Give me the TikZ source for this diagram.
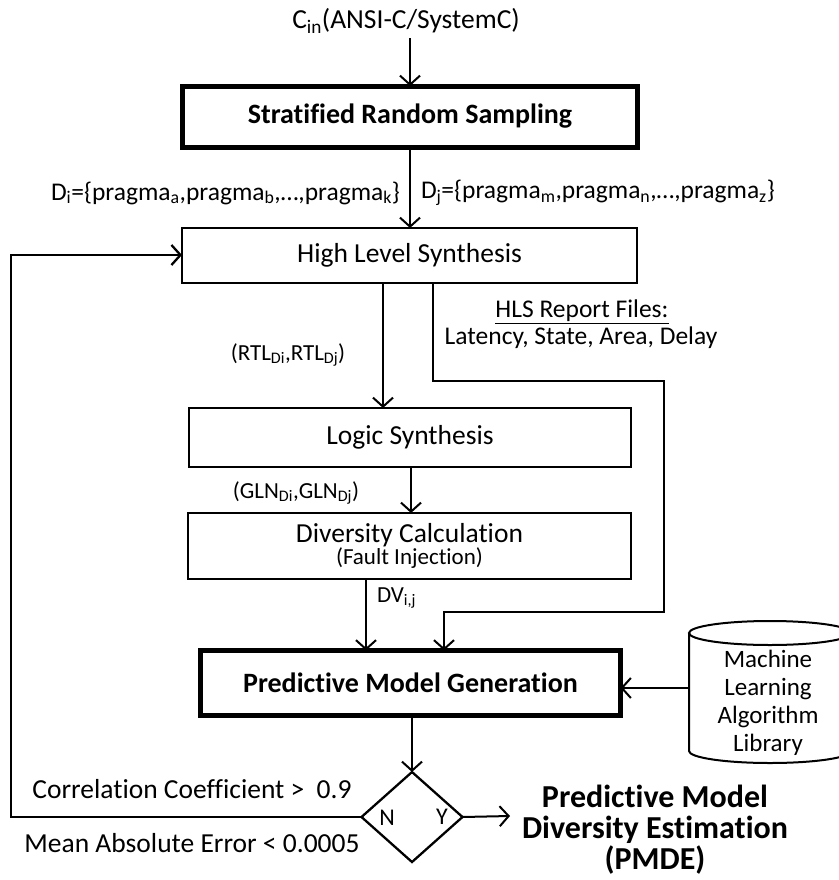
\documentclass[tikz,border=0pt]{standalone}
\usepackage{fontspec}
\setmainfont{Carlito}[Ligatures=NoCommon]
\usetikzlibrary{arrows.meta,shapes.geometric}
% font size and baseline skip, both in bp
\newcommand{\pxsize}[2]{\fontsize{#1bp}{#2bp}\selectfont}

\tikzset{
  every node/.style={inner sep=0pt, outer sep=0pt},
  txt/.style={font=\pxsize{27.5}{30}},
  lbl/.style={font=\pxsize{23}{25}},
  setlbl/.style={font=\pxsize{25.5}{28}},
  procbox/.style={draw, line width=2.3bp, font=\pxsize{27.5}{27.5}},
  keybox/.style={draw, line width=5bp, font=\bfseries\pxsize{28}{30}},
  flow/.style={line width=2bp},
  arr/.style={flow, -{Straight Barb[length=9bp,width=20bp]}},
}

\begin{document}
\begin{tikzpicture}[x=1bp, y=-1bp]
\useasboundingbox (0,0) rectangle (839,880);

% input source
\node[txt] (cin) at (406,21) {C\textsubscript{in}(ANSI-C/SystemC)};

% main flow boxes
\node[keybox, minimum width=455bp, minimum height=61bp] (strat) at (410,116.5) {Stratified Random Sampling};
\node[procbox, minimum width=455bp, minimum height=55bp] (hls) at (409.5,255.5) {High Level Synthesis};
\node[procbox, minimum width=442bp, minimum height=59bp] (ls) at (410,437.5) {Logic Synthesis};
\node[procbox, minimum width=443bp, minimum height=66bp, align=center] (dc) at (409.5,546)
  {Diversity Calculation\\[-5bp]{\pxsize{23}{25}(Fault Injection)}};
\node[keybox, minimum width=420bp, minimum height=65bp] (pmg) at (410.5,683) {Predictive Model Generation};

% decision
\node[draw, diamond, line width=2.3bp, minimum width=101bp, minimum height=90bp] (dia) at (412,817) {};
\node[font=\pxsize{24}{26}] (nlab) at (387,818) {N};
\node[font=\pxsize{24}{26}] (ylab) at (442,817) {Y};

% algorithm library (cylinder, running past the right edge)
\begin{scope}
\clip (0,0) rectangle (839,880);
\draw[line width=2bp] (770,633) ellipse [x radius=81, y radius=12];
\draw[line width=2bp] (689,633) -- (689,751)
  arc[start angle=180, end angle=0, x radius=81, y radius=12] -- (851,633);
\end{scope}
\node[font=\pxsize{25}{28}, align=center] (mll) at (768,703) {Machine\\Learning\\Algorithm\\Library};
\coordinate (mllw) at (689,688);

% result
\node[font=\bfseries\pxsize{32}{31}, align=center] (pmde) at (655,830)
  {Predictive Model\\Diversity Estimation\\(PMDE)};
\coordinate (out) at (510,816);

% edge labels
\node[setlbl, anchor=east] (di) at (400,193)
  {D\textsubscript{i}=\{pragma\textsubscript{a},pragma\textsubscript{b},\dots,pragma\textsubscript{k}\}};
\node[setlbl, anchor=west] (dj) at (421,193)
  {D\textsubscript{j}=\{pragma\textsubscript{m},pragma\textsubscript{n},\dots,pragma\textsubscript{z}\}};
\node[lbl] (rtl) at (288,355) {(RTL\textsubscript{Di},RTL\textsubscript{Dj})};
\node[setlbl] (rep) at (582,312) {\underline{HLS Report Files:}};
\node[setlbl] (repl) at (581,338) {Latency, State, Area, Delay};
\node[lbl] (gln) at (296,493) {(GLN\textsubscript{Di},GLN\textsubscript{Dj})};
\node[lbl, anchor=west] (dv) at (377,598) {DV\textsubscript{i,j}};
\node[txt] (corr) at (192,789) {Correlation Coefficient >~ 0.9};
\node[txt] (mae) at (192,843) {Mean Absolute Error < 0.0005};

% routing points
\coordinate (r1) at (433,381);
\coordinate (r2) at (664,381);
\coordinate (r3) at (664,612);
\coordinate (r4) at (444,612);
\coordinate (fbl) at (11,817);
\coordinate (fbt) at (11,255);

% connectors
\draw[arr] (410,38) -- (strat.north);
\draw[arr] (strat.south) -- (hls.north -| strat.south);
\draw[arr] (hls.south -| 383,0) -- (ls.north -| 383,0);
\draw[arr] (ls.south -| 411,0) -- (dc.north -| 411,0);
\draw[arr] (dc.south -| 366,0) -- (pmg.north -| 366,0);
\draw[arr] (hls.south -| r1) -- (r1) -- (r2) -- (r3) -- (r4) -- (pmg.north -| r4);
\draw[arr] (mllw) -- (pmg.east |- mllw);
\draw[arr] (pmg.south -| dia.north) -- (dia.north);
\draw[arr] (dia.east) -- (out);
\draw[arr, line width=2.3bp] (dia.west) -- (fbl) -- (fbt) -- (hls.west |- fbt);
\end{tikzpicture}
\end{document}
